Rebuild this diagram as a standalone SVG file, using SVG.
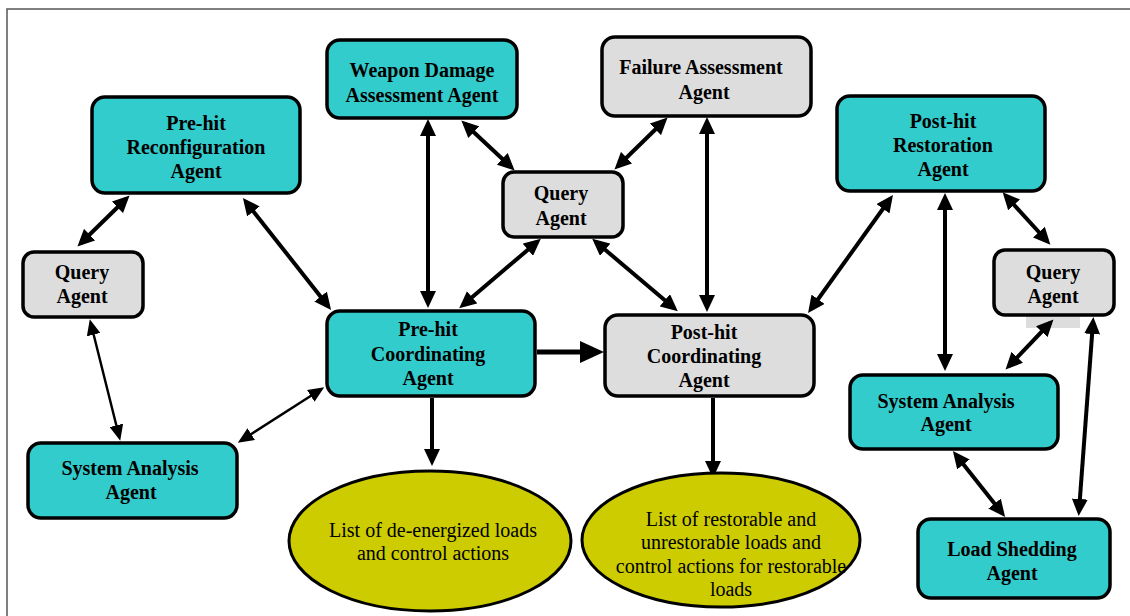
<svg xmlns="http://www.w3.org/2000/svg" width="1130" height="616" viewBox="0 0 1130 616">
  <style>
    .teal { fill: #33CCCC; stroke: #000; stroke-width: 3.5; }
    .grey { fill: #DDDDDD; stroke: #000; stroke-width: 3.5; }
    .oval { fill: #CCCC00; stroke: #000; stroke-width: 3; }
    .lbl { font-family: "Liberation Serif", "Times New Roman", serif; font-weight: bold; font-size: 20px; text-anchor: middle; fill: #000; }
    .olbl { font-family: "Liberation Serif", "Times New Roman", serif; font-size: 20px; text-anchor: middle; fill: #000; }
    .link { stroke: #000; stroke-width: 4; fill: none; marker-start: url(#ah); marker-end: url(#ah); }
    .thin { stroke: #000; stroke-width: 2.5; fill: none; marker-start: url(#ahs); marker-end: url(#ahs); }
    .one { stroke: #000; stroke-width: 4; fill: none; marker-end: url(#ah); }
  </style>
  <defs>
    <marker id="ah" markerUnits="userSpaceOnUse" markerWidth="17" markerHeight="16" refX="12" refY="8" orient="auto-start-reverse">
      <path d="M0,0 L17,8 L0,16 z" fill="#000"/>
    </marker>
    <marker id="ahs" markerUnits="userSpaceOnUse" markerWidth="16" markerHeight="14" refX="11" refY="7" orient="auto-start-reverse">
      <path d="M0,0 L16,7 L0,14 z" fill="#000"/>
    </marker>
    <marker id="ahb" markerUnits="userSpaceOnUse" markerWidth="24" markerHeight="22" refX="16" refY="11" orient="auto">
      <path d="M0,0 L24,11 L0,22 z" fill="#000"/>
    </marker>
  </defs>

  <!-- frame -->
  <path d="M7,616 L7,9 L1130,9" fill="none" stroke="#555" stroke-width="1.5"/>

  <!-- connectors -->
  <g id="connectors">
    <line class="link" x1="126" y1="199" x2="81" y2="243"/>
    <line class="link" x1="246" y1="202" x2="328" y2="306"/>
    <line class="thin" x1="91" y1="324" x2="119" y2="436"/>
    <line class="thin" x1="242" y1="440" x2="320" y2="390"/>
    <line class="link" x1="428" y1="124" x2="428" y2="303"/>
    <line class="link" x1="465" y1="124" x2="511" y2="167"/>
    <line class="link" x1="537" y1="242" x2="463" y2="305"/>
    <line class="link" x1="664" y1="121" x2="618" y2="166"/>
    <line class="link" x1="596" y1="242" x2="674" y2="308"/>
    <line class="link" x1="707" y1="122" x2="707" y2="307"/>
    <line class="link" x1="890" y1="199" x2="811" y2="309"/>
    <line stroke="#000" stroke-width="5" marker-end="url(#ahb)" x1="537" y1="352" x2="596" y2="352"/>
    <line class="one" x1="432" y1="398" x2="432" y2="461"/>
    <line class="one" x1="713" y1="398" x2="713" y2="473"/>
    <line class="link" x1="945" y1="198" x2="945" y2="366"/>
    <line class="link" x1="1006" y1="196" x2="1047" y2="241"/>
    <rect x="1026" y="314" width="54" height="14" fill="#DDDDDD"/>
    <line class="link" x1="1050" y1="323" x2="1009" y2="366"/>
    <line class="link" x1="1093" y1="322" x2="1079" y2="511"/>
    <line class="link" x1="956" y1="455" x2="1002" y2="513"/>
  </g>

  <g id="prehit-reconfiguration">
    <rect class="teal" x="92" y="97" width="208" height="96" rx="13"/>
    <text class="lbl" x="196" y="130">Pre-hit</text>
    <text class="lbl" x="196" y="154">Reconfiguration</text>
    <text class="lbl" x="196" y="178">Agent</text>
  </g>

  <g id="weapon-damage">
    <rect class="teal" x="327" y="40" width="190" height="78" rx="13"/>
    <text class="lbl" x="422" y="77">Weapon Damage</text>
    <text class="lbl" x="422" y="102">Assessment Agent</text>
  </g>

  <g id="failure-assessment">
    <rect class="grey" x="602" y="37" width="209" height="79" rx="13"/>
    <text class="lbl" x="701" y="74">Failure Assessment</text>
    <text class="lbl" x="704" y="99">Agent</text>
  </g>

  <g id="query-center">
    <rect class="grey" x="503" y="172" width="120" height="65" rx="11"/>
    <text class="lbl" x="561" y="200">Query</text>
    <text class="lbl" x="561" y="225">Agent</text>
  </g>

  <g id="posthit-restoration">
    <rect class="teal" x="837" y="96" width="208" height="95" rx="13"/>
    <text class="lbl" x="943" y="128">Post-hit</text>
    <text class="lbl" x="943" y="152">Restoration</text>
    <text class="lbl" x="943" y="176">Agent</text>
  </g>

  <g id="query-left">
    <rect class="grey" x="23" y="252" width="120" height="65" rx="11"/>
    <text class="lbl" x="82" y="279">Query</text>
    <text class="lbl" x="82" y="303">Agent</text>
  </g>

  <g id="query-right">
    <rect class="grey" x="994" y="250" width="120" height="65" rx="11"/>
    <text class="lbl" x="1053" y="279">Query</text>
    <text class="lbl" x="1053" y="303">Agent</text>
  </g>

  <g id="prehit-coordinating">
    <rect class="teal" x="327" y="311" width="208" height="85" rx="13"/>
    <text class="lbl" x="428" y="336">Pre-hit</text>
    <text class="lbl" x="428" y="361">Coordinating</text>
    <text class="lbl" x="428" y="385">Agent</text>
  </g>

  <g id="posthit-coordinating">
    <rect class="grey" x="605" y="315" width="209" height="81" rx="13"/>
    <text class="lbl" x="704" y="339">Post-hit</text>
    <text class="lbl" x="704" y="363">Coordinating</text>
    <text class="lbl" x="704" y="387">Agent</text>
  </g>

  <g id="system-analysis-left">
    <rect class="teal" x="28" y="443" width="209" height="75" rx="13"/>
    <text class="lbl" x="130" y="475">System Analysis</text>
    <text class="lbl" x="131" y="499">Agent</text>
  </g>

  <g id="system-analysis-right">
    <rect class="teal" x="850" y="375" width="208" height="74" rx="13"/>
    <text class="lbl" x="946" y="408">System Analysis</text>
    <text class="lbl" x="946" y="431">Agent</text>
  </g>

  <g id="load-shedding">
    <rect class="teal" x="918" y="519" width="192" height="79" rx="13"/>
    <text class="lbl" x="1012" y="556">Load Shedding</text>
    <text class="lbl" x="1012" y="580">Agent</text>
  </g>

  <g id="deenergized-list">
    <ellipse class="oval" cx="430" cy="541" rx="141" ry="70"/>
    <text class="olbl" x="433" y="537">List of de-energized loads</text>
    <text class="olbl" x="433" y="560">and control actions</text>
  </g>

  <g id="restorable-list">
    <ellipse class="oval" cx="721" cy="540" rx="139" ry="67"/>
    <text class="olbl" x="731" y="526">List of restorable and</text>
    <text class="olbl" x="731" y="549">unrestorable loads and</text>
    <text class="olbl" x="731" y="573">control actions for restorable</text>
    <text class="olbl" x="731" y="596">loads</text>
  </g>
</svg>
